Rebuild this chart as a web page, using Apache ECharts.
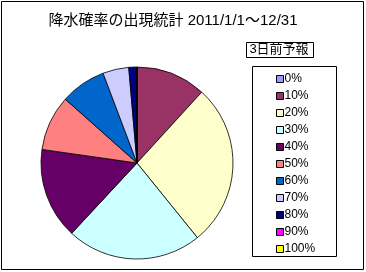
<!DOCTYPE html>
<html><head><meta charset="utf-8">
<script src="https://cdn.jsdelivr.net/npm/echarts@6/dist/echarts.min.js"></script>
<style>html,body{margin:0;padding:0;background:#fff}#c{width:366px;height:272px}</style>
</head><body><div id="c"></div>
<script>
const categories = ['0%','10%','20%','30%','40%','50%','60%','70%','80%','90%','100%'];
const days = [0, 43, 100, 83, 56, 34, 28, 16, 5, 0, 0];
const colors = ['#9999FF','#993366','#FFFFCC','#CCFFFF','#660066','#FF8080','#0066CC','#CCCCFF','#000080','#FF00FF','#FFFF00'];
const titleText = '降水確率の出現統計 2011/1/1〜12/31';
const legendTitle = '3日前予報';
const FONT = '"Liberation Sans", "Noto Sans CJK JP", sans-serif';

const chart = echarts.init(document.getElementById('c'), null, {renderer:'canvas'});
chart.setOption({
  animation: false,
  color: colors,
  title: [
    {text: titleText, left: 173, top: 13, textAlign: 'center', padding: 0,
     textStyle: {fontFamily: FONT, fontSize: 15, fontWeight: 'normal', color: '#000'}},
    {text: legendTitle, left: 279, top: 43, textAlign: 'center', padding: 0,
     textStyle: {fontFamily: FONT, fontSize: 13, fontWeight: 'normal', color: '#000'}}
  ],
  graphic: [
    {type: 'rect', shape: {x: 1.5, y: 1.5, width: 362, height: 268}, style: {fill: 'none', stroke: '#000', lineWidth: 1}, z: -1},
    {type: 'rect', shape: {x: 246.5, y: 42.5, width: 67, height: 15}, style: {fill: 'none', stroke: '#000', lineWidth: 1}},
    {type: 'rect', shape: {x: 252.5, y: 66.5, width: 84, height: 190}, style: {fill: 'none', stroke: '#000', lineWidth: 1}}
  ],
  legend: {
    orient: 'vertical', left: 276, top: 73, padding: 0,
    itemWidth: 7, itemHeight: 7, itemGap: 5, icon: 'rect',
    itemStyle: {borderColor: '#000', borderWidth: 1},
    textStyle: {fontFamily: FONT, fontSize: 12, color: '#000', lineHeight: 12, padding: [0,0,0,-4]},
    data: categories
  },
  series: [{
    type: 'pie', center: [137, 163], radius: 96, startAngle: 90, clockwise: true,
    label: {show: false}, labelLine: {show: false}, emphasis: {disabled: true},
    itemStyle: {borderColor: '#000', borderWidth: 0.8},
    data: categories.map((c, i) => ({name: c, value: days[i]}))
  }]
});
</script></body></html>
